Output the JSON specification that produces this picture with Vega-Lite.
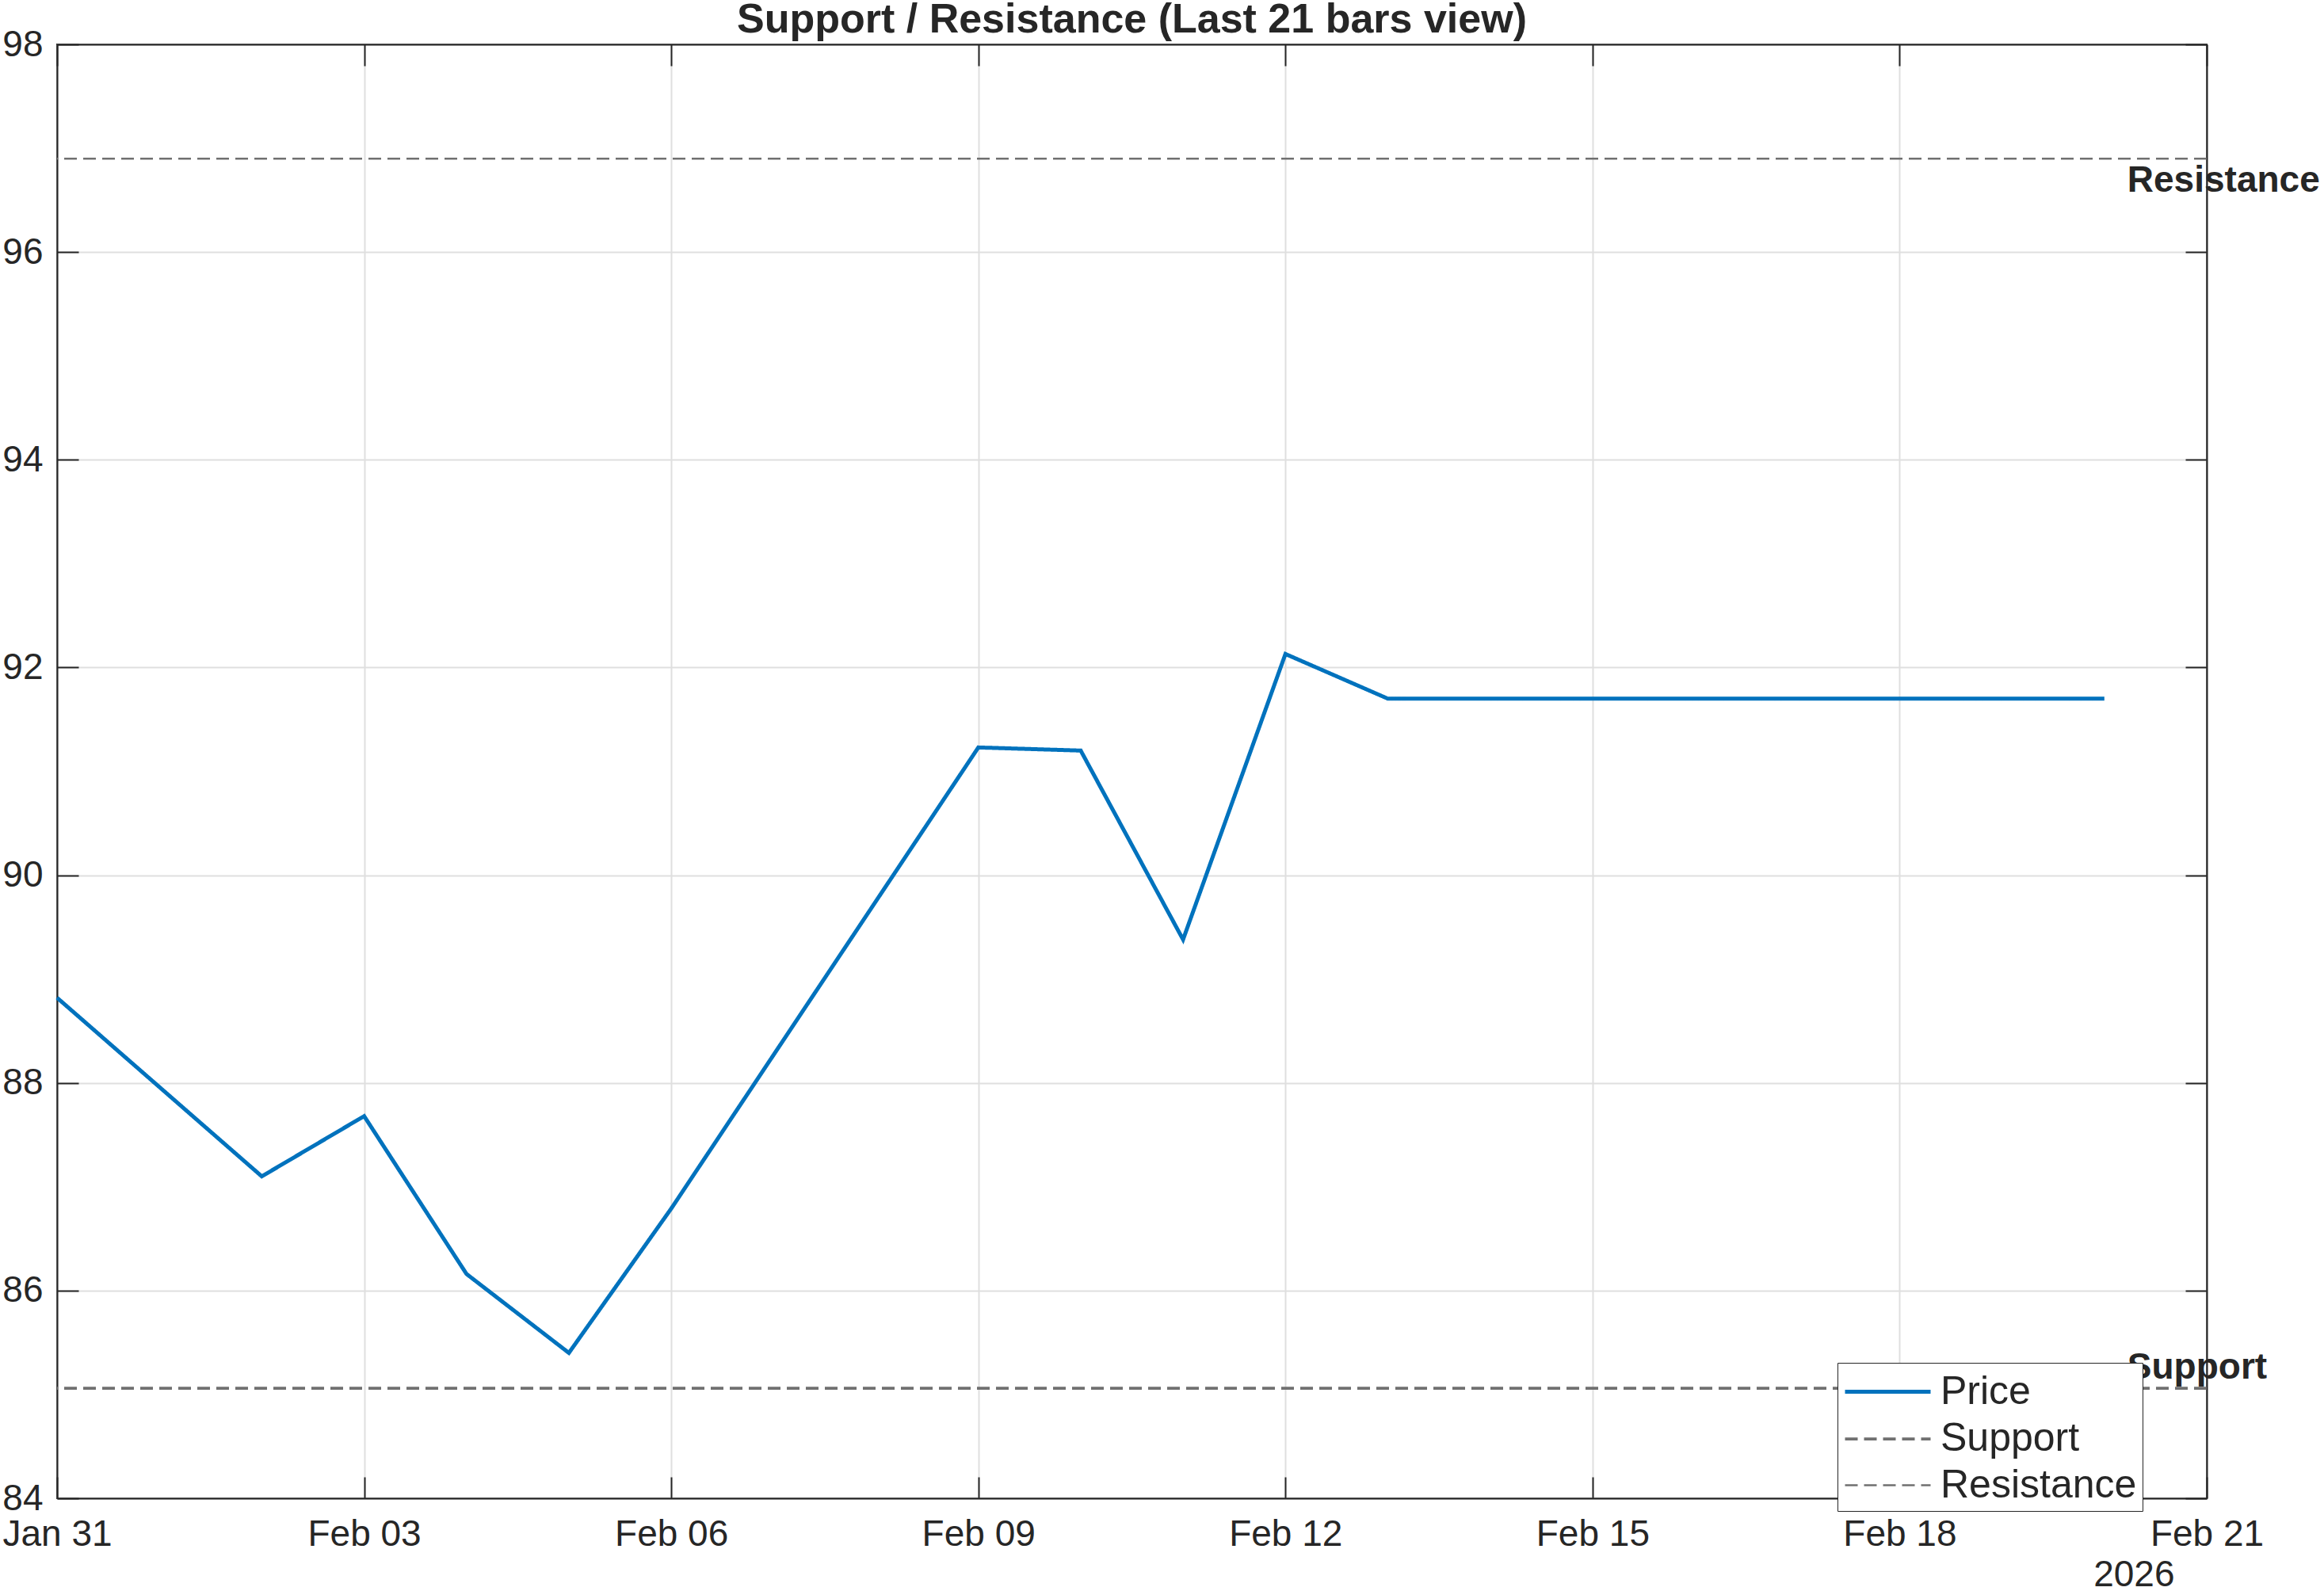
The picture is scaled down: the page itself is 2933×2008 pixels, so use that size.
{
  "$schema": "https://vega.github.io/schema/vega-lite/v6.json",
  "autosize": {"type": "none"},
  "padding": {"left": 72, "top": 56, "right": 148, "bottom": 117},
  "width": 2713,
  "height": 1835,
  "background": "white",
  "title": {"text": "Support / Resistance (Last 21 bars view)", "fontSize": 52, "fontWeight": "bold", "font": "Liberation Sans", "color": "#262626", "anchor": "middle", "baseline": "alphabetic", "offset": 0, "dy": 60, "frame": "group"},
  "datasets": {
    "price": [
      {"date": "2026-01-31", "series": "Price", "value": 88.82},
      {"date": "2026-02-01", "series": "Price", "value": 87.96},
      {"date": "2026-02-02", "series": "Price", "value": 87.10},
      {"date": "2026-02-03", "series": "Price", "value": 87.68},
      {"date": "2026-02-04", "series": "Price", "value": 86.16},
      {"date": "2026-02-05", "series": "Price", "value": 85.40},
      {"date": "2026-02-06", "series": "Price", "value": 86.79},
      {"date": "2026-02-07", "series": "Price", "value": 88.27},
      {"date": "2026-02-08", "series": "Price", "value": 89.75},
      {"date": "2026-02-09", "series": "Price", "value": 91.23},
      {"date": "2026-02-10", "series": "Price", "value": 91.20},
      {"date": "2026-02-11", "series": "Price", "value": 89.38},
      {"date": "2026-02-12", "series": "Price", "value": 92.13},
      {"date": "2026-02-13", "series": "Price", "value": 91.70},
      {"date": "2026-02-14", "series": "Price", "value": 91.70},
      {"date": "2026-02-15", "series": "Price", "value": 91.70},
      {"date": "2026-02-16", "series": "Price", "value": 91.70},
      {"date": "2026-02-17", "series": "Price", "value": 91.70},
      {"date": "2026-02-18", "series": "Price", "value": 91.70},
      {"date": "2026-02-19", "series": "Price", "value": 91.70},
      {"date": "2026-02-20", "series": "Price", "value": 91.70}
    ],
    "levels": [
      {"series": "Support", "value": 85.06},
      {"series": "Resistance", "value": 96.9}
    ]
  },
  "config": {
    "view": {"stroke": "#262626", "strokeWidth": 2},
    "axis": {
      "labelFont": "Liberation Sans", "labelFontSize": 46, "labelColor": "#262626",
      "titleFont": "Liberation Sans", "titleFontSize": 46, "titleColor": "#262626", "titleFontWeight": "normal",
      "domainColor": "#262626", "domainWidth": 2,
      "tickColor": "#262626", "tickWidth": 2, "tickSize": -27,
      "gridColor": "#dfdfdf", "gridWidth": 2,
      "labelFlush": false, "labelOverlap": false
    }
  },
  "resolve": {"axis": {"x": "independent", "y": "independent"}},
  "layer": [
    {
      "data": {"name": "price"},
      "mark": {"type": "line", "strokeJoin": "miter"},
      "encoding": {
        "x": {
          "field": "date", "type": "temporal",
          "scale": {"type": "utc", "domain": [{"year": 2026, "month": 1, "date": 31, "utc": true}, {"year": 2026, "month": 2, "date": 21, "utc": true}]},
          "axis": {
            "orient": "bottom", "labelExpr": "utcFormat(datum.value, '%b %d')", "grid": true, "labelPadding": 50,
            "values": [
              {"year": 2026, "month": 1, "date": 31, "utc": true},
              {"year": 2026, "month": 2, "date": 3, "utc": true},
              {"year": 2026, "month": 2, "date": 6, "utc": true},
              {"year": 2026, "month": 2, "date": 9, "utc": true},
              {"year": 2026, "month": 2, "date": 12, "utc": true},
              {"year": 2026, "month": 2, "date": 15, "utc": true},
              {"year": 2026, "month": 2, "date": 18, "utc": true},
              {"year": 2026, "month": 2, "date": 21, "utc": true}
            ],
            "title": "2026", "titleAnchor": null, "titleAlign": "right", "titleBaseline": "alphabetic", "titleX": 2672, "titleY": 110
          }
        },
        "y": {
          "field": "value", "type": "quantitative",
          "scale": {"domain": [84, 98], "nice": false, "zero": false},
          "axis": {"orient": "left", "values": [84, 86, 88, 90, 92, 94, 96, 98], "grid": true, "title": null, "labelPadding": 45}
        },
        "color": {
          "field": "series", "type": "nominal",
          "scale": {"domain": ["Price", "Support", "Resistance"], "range": ["#0072BD", "#707070", "#707070"]},
          "legend": {
            "orient": "none", "legendX": 2247, "legendY": 1664, "title": null,
            "symbolType": "M-1,0L3,0", "symbolSize": 2916,
            "labelFont": "Liberation Sans", "labelFontSize": 50, "labelColor": "#262626", "labelOffset": 64, "labelLimit": 1000,
            "strokeColor": "#262626", "fillColor": "white", "padding": 7, "rowPadding": 5
          }
        },
        "strokeDash": {
          "field": "series", "type": "nominal",
          "scale": {"domain": ["Price", "Support", "Resistance"], "range": [[1, 0], [16, 8], [16, 8]]}
        },
        "strokeWidth": {
          "field": "series", "type": "nominal",
          "scale": {"domain": ["Price", "Support", "Resistance"], "range": [5, 2.5, 2.5]}
        }
      }
    },
    {
      "data": {"name": "levels"},
      "mark": {"type": "rule"},
      "encoding": {
        "y": {"field": "value", "type": "quantitative", "axis": {"orient": "right", "labels": false, "grid": false, "title": null, "values": [84, 86, 88, 90, 92, 94, 96, 98]}},
        "color": {"field": "series", "type": "nominal"},
        "strokeDash": {"field": "series", "type": "nominal"},
        "strokeWidth": {"field": "series", "type": "nominal"}
      }
    },
    {
      "data": {"name": "levels"},
      "transform": [{"filter": "datum.series === 'Resistance'"}],
      "mark": {"type": "text", "align": "left", "baseline": "alphabetic", "dx": 29, "dy": 42, "font": "Liberation Sans", "fontSize": 46, "fontWeight": "bold", "color": "#262626"},
      "encoding": {
        "x": {
          "datum": {"year": 2026, "month": 2, "date": 20, "utc": true}, "type": "temporal",
          "axis": {
            "orient": "top", "labels": false, "grid": false, "title": null,
            "values": [
              {"year": 2026, "month": 1, "date": 31, "utc": true},
              {"year": 2026, "month": 2, "date": 3, "utc": true},
              {"year": 2026, "month": 2, "date": 6, "utc": true},
              {"year": 2026, "month": 2, "date": 9, "utc": true},
              {"year": 2026, "month": 2, "date": 12, "utc": true},
              {"year": 2026, "month": 2, "date": 15, "utc": true},
              {"year": 2026, "month": 2, "date": 18, "utc": true},
              {"year": 2026, "month": 2, "date": 21, "utc": true}
            ]
          }
        },
        "y": {"field": "value", "type": "quantitative", "axis": null},
        "text": {"field": "series"}
      }
    },
    {
      "data": {"name": "levels"},
      "transform": [{"filter": "datum.series === 'Support'"}],
      "mark": {"type": "text", "align": "left", "baseline": "alphabetic", "dx": 29, "dy": -12, "font": "Liberation Sans", "fontSize": 46, "fontWeight": "bold", "color": "#262626"},
      "encoding": {
        "x": {"datum": {"year": 2026, "month": 2, "date": 20, "utc": true}, "type": "temporal", "axis": null},
        "y": {"field": "value", "type": "quantitative", "axis": null},
        "text": {"field": "series"}
      }
    }
  ]
}
